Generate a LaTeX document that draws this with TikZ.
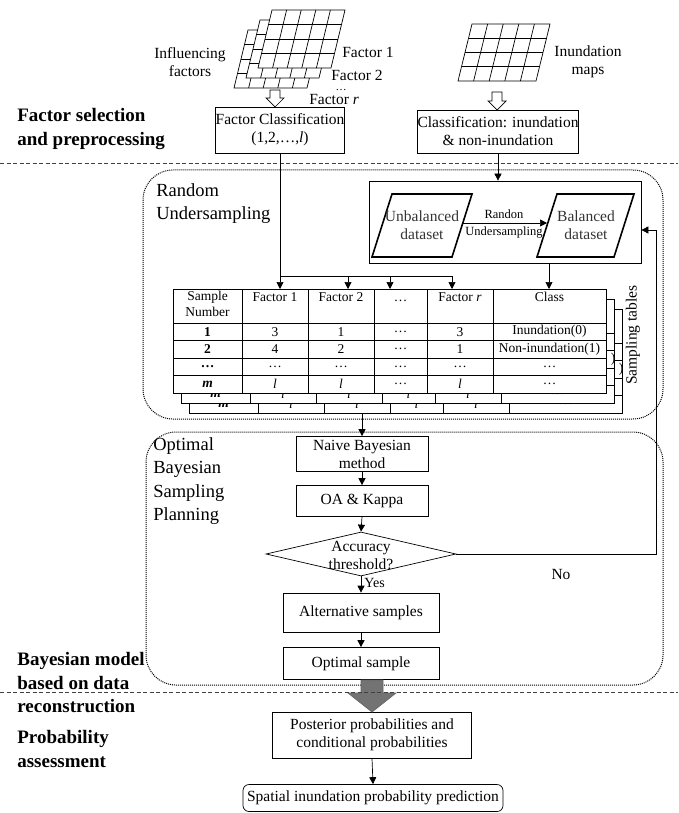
\documentclass[tikz,border=0pt]{standalone}
\usepackage{fontspec}
\setmainfont{Liberation Serif}
\usetikzlibrary{arrows.meta,shapes.geometric,calc}
\newcommand\fsz[2]{\fontsize{#1}{#2}\selectfont}
\newcommand\gridlayer[5]{%
  \filldraw[fill=white] (#1,#2) -- ++(#3,0) -- ++(#5,-#4) -- ++(-#3,0) -- cycle;
  \foreach \i in {1,...,4} \draw ({#1+#3*\i/5},#2) -- ++(#5,-#4);
  \foreach \j in {1,2,3} \draw ({#1+#5*\j/4},{#2-#4*\j/4}) -- ++(#3,0);
}
\newcommand\hollowdown[3]{%
  \draw[fill=white] ({#1-5},#2) -- ({#1+5},#2) -- ({#1+5},{#3-9}) -- ({#1+9},{#3-9}) -- (#1,#3) -- ({#1-9},{#3-9}) -- ({#1-5},{#3-9}) -- cycle;
}
% frame of one sampling table, shifted by (#1,#2)
\newcommand\tableframe[2]{%
  \begin{scope}[shift={(#1,#2)}]
    \filldraw[fill=white] (173,289) rectangle (606,393);
    \foreach \yy in {323,340.5,358,375.5} \draw (173,\yy) -- (606,\yy);
    \foreach \xx in {242,308,374,427,493} \draw (\xx,289) -- (\xx,393);
  \end{scope}
}
% a sampling table lying behind the front one: only its last row and the end of its long class text show
\newcommand\backtable[2]{%
  \tableframe{#1}{#2}
  \begin{scope}[shift={(#1,#2)}]
    \foreach \xx/\tt in {207.5/{\textbf{\textit{m}}},275/{\textit{l}},341/{\textit{l}},400.5/{\textit{l}},460/{\textit{l}},549.5/{…}}
      \node[cell] at (\xx,384.25) {\tt};
    \node[cell] at (605,349.25) {)};
  \end{scope}
}
\begin{document}
\begin{tikzpicture}[x=1pt,y=-1pt, line width=0.7pt,
  arr/.style={-{Triangle[length=7pt,width=7pt]}},
  box/.style={draw, align=center, font=\fsz{15.5}{18}, inner sep=0pt},
  txt/.style={font=\fsz{15.5}{18}, align=center, inner sep=0pt},
  lbl/.style={font=\bfseries\fsz{19}{23.5}, align=left, anchor=north west, inner sep=0pt},
  sec/.style={font=\fsz{18.5}{23.5}, align=left, anchor=north west, inner sep=0pt},
  cell/.style={font=\fsz{13.5}{16}, inner sep=0pt},
  sepline/.style={dash pattern=on 4pt off 2.5pt, line width=0.6pt, black!75},
  region/.style={densely dotted, line width=1pt, rounded corners=30pt},
  para/.style={draw, line width=1.6pt},
]
\useasboundingbox (0,0) rectangle (678,813);

% ---------- top: input maps ----------
\gridlayer{234}{88}{73}{58}{14}
\gridlayer{246}{78}{73}{58}{14}
\gridlayer{258}{68}{73}{58}{14}
\gridlayer{458}{81}{78}{57}{14}

\node[txt] (inf) at (190,62) {Influencing\\factors};
\node[txt, anchor=west] (f1) at (342,52) {Factor 1};
\node[txt, anchor=west] (f2) at (331,75) {Factor 2};
\node[txt, font=\fsz{11}{11}, anchor=base] (fd) at (341,91) {…};
\node[txt, anchor=west] (fr) at (309,100) {Factor \textit{r}};
\node[txt] (imap) at (588,62) {Inundation\\maps};

\hollowdown{275}{90}{107}
\hollowdown{497}{92}{110}

\node[box, minimum width=126pt, minimum height=46pt] (fc) at (280,130) {Factor Classification\\(1,2,…,\textit{l})};
\node[box, minimum width=151pt, minimum height=43pt] (cls) at (498,131.5) {Classification: inundation\\\& non-inundation};

\node[lbl] (s1) at (17,108) {Factor selection\\and preprocessing};
\draw[sepline] (0,163) -- (678,163);

% ---------- random undersampling ----------
\draw[region] (143,170) rectangle (663,419);
\node[sec] (ru) at (156,183) {Random\\Undersampling};

\node[draw, minimum width=272pt, minimum height=82pt, inner sep=0pt] (inner) at (505,222) {};
\draw[para] (392,194) -- (472,194) -- (452,257) -- (372,257) -- cycle;
\draw[para] (557,194) -- (634,194) -- (614,257) -- (537,257) -- cycle;
\node[txt, text=black!80] (unb) at (422,225) {Unbalanced\\dataset};
\node[txt, text=black!80] (bal) at (586,225) {Balanced\\dataset};
\coordinate (unbE) at (463,223);
\coordinate (balW) at (547,223);
\draw[arr] (unbE) -- (balW);
\node[txt, font=\fsz{12.5}{14}] (rl1) at (504,214) {Randon};
\node[txt, font=\fsz{12.5}{14}] (rl2) at (504,233) {Undersampling};

\draw[arr] (cls.south) -- (cls.south |- inner.north);

\backtable{16}{20}
\backtable{8}{10}
\tableframe{0}{0}
\node[cell, align=center, anchor=north] (hS) at (207.5,291) {Sample\\Number};
\node[cell, anchor=base] (h1) at (275,301) {Factor 1};
\node[cell, anchor=base] (h2) at (341,301) {Factor 2};
\node[cell, anchor=base] (h3) at (400.5,301) {…};
\node[cell, anchor=base] (h4) at (460,301) {Factor \textit{r}};
\node[cell, anchor=base] (h5) at (549.5,301) {Class};
\foreach \xx/\tt in {207.5/{\textbf{1}},275/3,341/1,400.5/{…},460/3,549.5/{Inundation(0)}}
  \node[cell] at (\xx,331.75) {\tt};
\foreach \xx/\tt in {207.5/{\textbf{2}},275/4,341/2,400.5/{…},460/1,549.5/{Non-inundation(1)}}
  \node[cell] at (\xx,349.25) {\tt};
\foreach \xx/\tt in {207.5/{\textbf{…}},275/{…},341/{…},400.5/{…},460/{…},549.5/{…}}
  \node[cell] at (\xx,366.75) {\tt};
\foreach \xx/\tt in {207.5/{\textbf{\textit{m}}},275/{\textit{l}},341/{\textit{l}},400.5/{…},460/{\textit{l}},549.5/{…}}
  \node[cell] at (\xx,384.25) {\tt};
\node[txt, rotate=90] (st) at (633,335) {Sampling tables};

\coordinate (bus) at (280,276);
\coordinate (busR) at (452,276);
\coordinate (t1) at (280,289);
\coordinate (t2) at (348,289);
\coordinate (t3) at (390,289);
\coordinate (t4) at (452,289);
\coordinate (t5) at (549,289);
\draw (fc.south) -- (bus) -- (busR);
\draw[arr] (bus) -- (t1);
\draw[arr] (t2 |- bus) -- (t2);
\draw[arr] (t3 |- bus) -- (t3);
\draw[arr] (busR) -- (t4);
\draw[arr] (t5 |- inner.south) -- (t5);

% ---------- optimal bayesian sampling ----------
\draw[region] (146,432) rectangle (663,685);
\node[sec] (ob) at (153,437) {Optimal\\Bayesian\\Sampling\\Planning};

\node[box, minimum width=132pt, minimum height=35pt] (nb) at (362,454) {Naive Bayesian\\method};
\node[box, minimum width=132pt, minimum height=31pt] (oa) at (362,501) {OA \& Kappa};
\node[diamond, draw, minimum width=190pt, minimum height=44pt, inner sep=0pt] (dia) at (361,554) {};
\node[txt] (diat) at (361,555) {Accuracy\\threshold?};
\node[box, minimum width=156pt, minimum height=39pt] (alt) at (361,612.5) {Alternative samples};
\node[box, minimum width=156pt, minimum height=32pt] (opt) at (361,663.5) {Optimal sample};

\coordinate (tblB) at (362,413);
\draw[arr] (tblB) -- (nb.north);
\draw[arr] (nb.south) -- (oa.north);
\draw[arr] (oa.south) -- (dia.north);
\draw[arr] (dia.south) -- (alt.north);
\draw[arr] (alt.south) -- (opt.north);
\node[txt, anchor=west, font=\fsz{14}{16}] (yes) at (364,583) {Yes};
\node[txt] (no) at (561,574) {No};
\coordinate (fb) at (656,230);
\draw[arr] (dia.east) -| (fb) -- (fb -| inner.east);

\node[lbl] (s3) at (17,652) {Bayesian model\\based on data\\reconstruction};

% ---------- probability assessment ----------
\node[box, minimum width=199pt, minimum height=46pt] (post) at (372,735) {Posterior probabilities and\\conditional probabilities};
\draw[fill=black!55, draw=black!60] (361,680) -- (383,680) -- (383,693) -- (396,693) -- (372,712) -- (348,693) -- (361,693) -- cycle;
\draw[sepline] (0,692) -- (678,692);
\node[lbl] (s4) at (17,730) {Probability\\assessment};
\node[box, rounded corners=6pt, minimum width=260pt, minimum height=27pt] (sp) at (373,798) {Spatial inundation probability prediction};
\draw[arr] (post.south) -- (sp.north);
\end{tikzpicture}
\end{document}
